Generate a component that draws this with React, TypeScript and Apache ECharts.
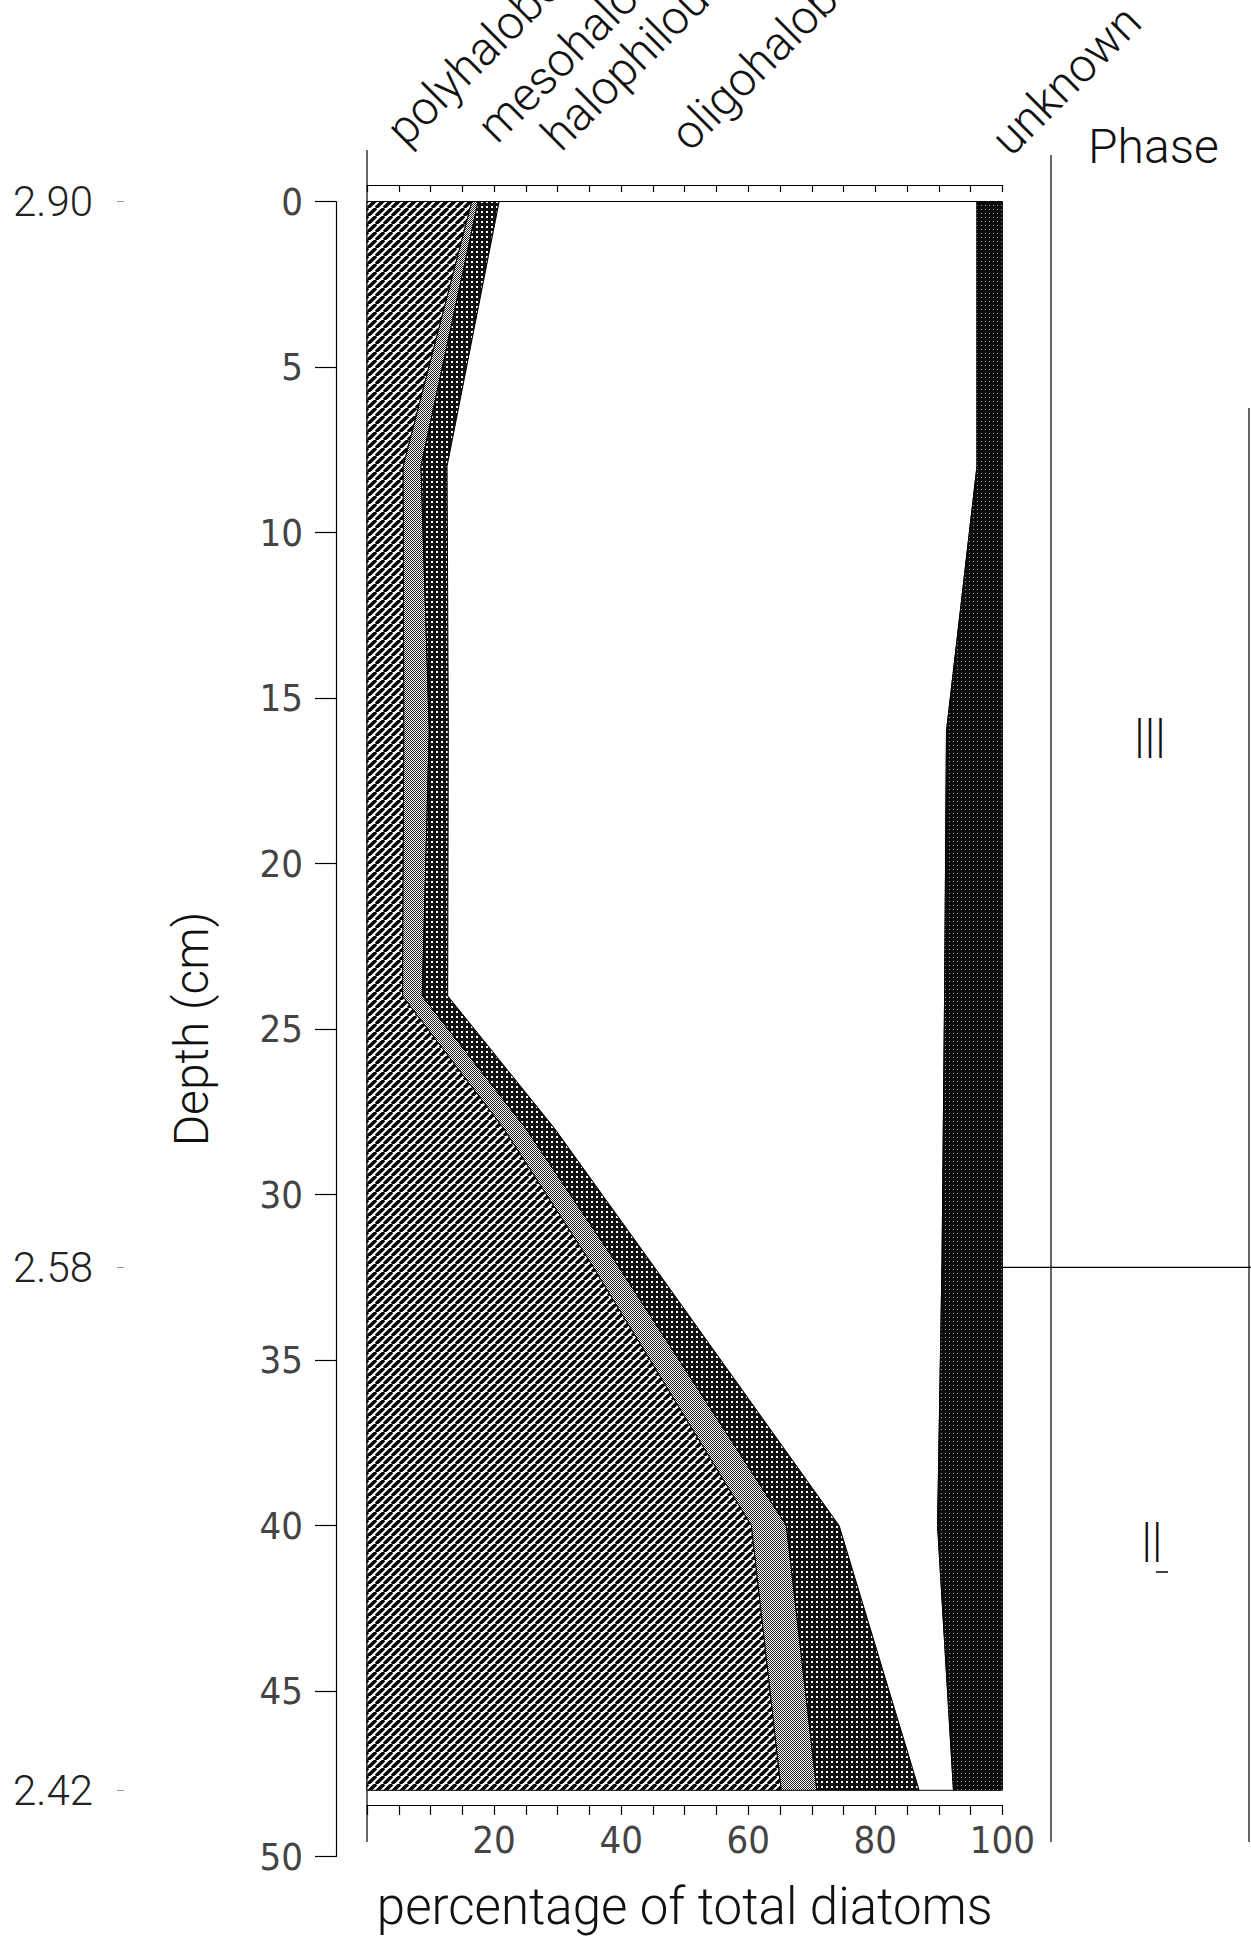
import React, { useEffect, useRef } from 'react';
import * as echarts from 'echarts';

// ---------------- data ----------------
const depths = [0, 8, 16, 24, 28, 32, 40, 48]; // cm
const polyhalobous = [16.5, 5.7, 5.8, 5.6, 21.5, 35.0, 60.5, 65.2];
const mesohalobous = [1.0, 2.8, 4.0, 3.1, 3.5, 4.0, 5.5, 5.6];
const halophilous = [3.3, 4.1, 3.0, 4.0, 4.5, 5.5, 8.3, 16.1];
const oligohalobous = [75.2, 83.4, 78.4, 78.2, 61.2, 46.0, 15.5, 5.4];
const unknown = [4.0, 4.0, 8.8, 9.1, 9.3, 9.5, 10.2, 7.7];

const groupNames = ['polyhalobous', 'mesohalobous', 'halophilous', 'oligohalobous', 'unknown'];
const pctLabels = [20, 40, 60, 80, 100];
const elevationDepths = [0, 32.2, 48];
const elevationLabels = ['2.90', '2.58', '2.42'];
const phaseBoundaryDepth = 32.2;
const phaseNames = ['III', 'II'];

// ---------------- layout ----------------
const W = 1251;
const H = 1939;
const GRID_LEFT = 367;
const GRID_WIDTH = 635.4;
const GRID_TOP = 201.5;
const PX_CM = 33.1;
const GRID_HEIGHT = 50 * PX_CM;

const LIGHT = 'Roboto, "Open Sans", "DejaVu Sans", sans-serif';
const NARROW = '"Liberation Sans Narrow", "DejaVu Sans Condensed", sans-serif';

function makePattern(size: number, draw: (ctx: CanvasRenderingContext2D) => void) {
  const c = document.createElement('canvas');
  c.width = size;
  c.height = size;
  const ctx = c.getContext('2d') as CanvasRenderingContext2D;
  draw(ctx);
  return { image: c, repeat: 'repeat', imageWidth: size, imageHeight: size };
}

export default function App() {
  const ref = useRef<HTMLDivElement>(null);

  useEffect(() => {
    const chart = echarts.init(ref.current as HTMLDivElement, null, { renderer: 'svg' });

    const hatch = makePattern(8, (ctx) => {
      ctx.fillStyle = '#fff';
      ctx.fillRect(0, 0, 8, 8);
      ctx.strokeStyle = '#000';
      ctx.lineWidth = 3.4;
      for (const o of [-8, 0, 8]) {
        ctx.beginPath();
        ctx.moveTo(o, 8);
        ctx.lineTo(o + 8, 0);
        ctx.stroke();
      }
    });
    const fineGray = makePattern(4, (ctx) => {
      ctx.fillStyle = '#fff';
      ctx.fillRect(0, 0, 4, 4);
      ctx.fillStyle = '#222';
      for (let y = 0; y < 4; y++) for (let x = 0; x < 4; x++) if ((x + y) % 2 === 0) ctx.fillRect(x, y, 1, 1);
    });
    const coarseDots = makePattern(5, (ctx) => {
      ctx.fillStyle = '#111';
      ctx.fillRect(0, 0, 5, 5);
      ctx.fillStyle = '#fff';
      ctx.fillRect(1, 1, 2, 2);
    });
    const darkDots = makePattern(4, (ctx) => {
      ctx.fillStyle = '#0a0a0a';
      ctx.fillRect(0, 0, 4, 4);
      ctx.fillStyle = '#aaa';
      ctx.fillRect(1, 1, 1, 1);
    });
    const fills: any[] = [hatch, fineGray, coarseDots, '#ffffff', darkDots];

    const comps = [polyhalobous, mesohalobous, halophilous, oligohalobous, unknown];
    // cumulative boundaries
    const cum: number[][] = [depths.map(() => 0)];
    comps.forEach((c, k) => cum.push(c.map((v, i) => cum[k][i] + v)));
    const bands = comps.map((_, k) => depths.map((d, i) => [cum[k][i], cum[k + 1][i], d]));

    const series = bands.map((rows, k) => ({
      type: 'custom',
      name: groupNames[k],
      xAxisIndex: 0,
      yAxisIndex: 0,
      data: rows,
      encode: { x: [0, 1], y: 2 },
      silent: true,
      renderItem: (params: any, api: any) => {
        if (params.dataIndex !== 0) return null;
        const pts: number[][] = [];
        rows.forEach((r) => pts.push(api.coord([r[0], r[2]])));
        for (let i = rows.length - 1; i >= 0; i--) pts.push(api.coord([rows[i][1], rows[i][2]]));
        return {
          type: 'polygon',
          shape: { points: pts },
          style: { fill: fills[k], stroke: '#000', lineWidth: 1 },
        };
      },
    }));

    const axisLineStyle = { color: '#000', width: 1.2 };
    const yB = GRID_TOP + phaseBoundaryDepth * PX_CM;
    const headerStyle = (text: string) => ({
      text,
      fontFamily: LIGHT,
      fontWeight: 300,
      fontSize: 47,
      fill: '#111',
      textAlign: 'left',
      textVerticalAlign: 'bottom',
    });
    const headerPos = [
      [411, 153],
      [502, 150],
      [566, 158],
      [695, 158],
      [1016, 163],
    ];
    const line = (x1: number, y1: number, x2: number, y2: number, w = 1.2, c = '#000') => ({
      type: 'line',
      silent: true,
      shape: { x1, y1, x2, y2 },
      style: { stroke: c, lineWidth: w },
    });

    const option: any = {
      animation: false,
      backgroundColor: '#fff',
      grid: {
        left: GRID_LEFT,
        top: GRID_TOP,
        width: GRID_WIDTH,
        height: GRID_HEIGHT,
        containLabel: false,
        outerBoundsMode: 'none',
      },
      xAxis: [
        {
          type: 'value',
          gridIndex: 0,
          position: 'bottom',
          min: 0,
          max: 100,
          interval: 5,
          offset: -51.5,
          axisLine: { show: true, onZero: false, lineStyle: axisLineStyle },
          axisTick: { show: true, inside: false, length: 10, lineStyle: axisLineStyle },
          axisLabel: {
            show: true,
            margin: 16,
            fontFamily: NARROW,
            fontSize: 38,
            color: '#444',
            formatter: (v: number) => (pctLabels.includes(v) ? String(v) : ''),
          },
          splitLine: { show: false },
          name: 'percentage of total diatoms',
          nameLocation: 'middle',
          nameGap: 76,
          nameTextStyle: { fontFamily: LIGHT, fontWeight: 300, fontSize: 51, color: '#111' },
        },
        {
          type: 'value',
          gridIndex: 0,
          position: 'top',
          min: 0,
          max: 100,
          interval: 5,
          offset: 16.5,
          axisLine: { show: true, onZero: false, lineStyle: axisLineStyle },
          axisTick: { show: true, inside: true, length: 7, lineStyle: axisLineStyle },
          axisLabel: { show: false },
          splitLine: { show: false },
        },
      ],
      yAxis: [
        {
          type: 'value',
          gridIndex: 0,
          position: 'left',
          inverse: true,
          min: 0,
          max: 50,
          interval: 5,
          offset: 31,
          axisLine: { show: true, onZero: false, lineStyle: axisLineStyle },
          axisTick: { show: true, inside: false, length: 21, lineStyle: axisLineStyle },
          axisLabel: { show: true, margin: 33, fontFamily: NARROW, fontSize: 38, color: '#444' },
          splitLine: { show: false },
          name: 'Depth (cm)',
          nameLocation: 'middle',
          nameRotate: 90,
          nameGap: 121,
          nameTextStyle: { fontFamily: LIGHT, fontWeight: 300, fontSize: 48, color: '#111' },
        },
        {
          type: 'value',
          gridIndex: 0,
          position: 'left',
          inverse: true,
          min: 0,
          max: 50,
          offset: 243,
          axisLine: { show: false, onZero: false },
          axisTick: { show: true, inside: false, length: 7, customValues: elevationDepths, lineStyle: { color: '#999', width: 1 } },
          axisLabel: {
            show: true,
            margin: 31,
            customValues: elevationDepths,
            fontFamily: LIGHT,
            fontWeight: 300,
            fontSize: 42,
            color: '#222',
            formatter: (v: number) => {
              const i = elevationDepths.indexOf(v);
              return i >= 0 ? elevationLabels[i] : '';
            },
          },
          splitLine: { show: false },
        },
      ],
      series,
      graphic: [
        line(GRID_LEFT, 150, GRID_LEFT, 1842),
        line(1051, 155, 1051, 1842),
        line(GRID_LEFT + GRID_WIDTH, yB, W, yB),
        line(1249, 408, 1249, 1842),
        ...groupNames.map((n, k) => ({
          type: 'text',
          silent: true,
          x: headerPos[k][0],
          y: headerPos[k][1],
          rotation: Math.PI / 4,
          style: headerStyle(n),
        })),
        {
          type: 'text',
          silent: true,
          x: 1088,
          y: 146,
          style: { text: 'Phase', fontFamily: LIGHT, fontWeight: 300, fontSize: 48, fill: '#111', textAlign: 'left', textVerticalAlign: 'middle' },
        },
        {
          type: 'text',
          silent: true,
          x: 1150,
          y: 739,
          scaleX: 0.7,
          style: { text: phaseNames[0], fontFamily: LIGHT, fontWeight: 300, fontSize: 56, fill: '#111', textAlign: 'center', textVerticalAlign: 'middle' },
        },
        {
          type: 'text',
          silent: true,
          x: 1152,
          y: 1543,
          scaleX: 0.7,
          style: { text: phaseNames[1], fontFamily: LIGHT, fontWeight: 300, fontSize: 56, fill: '#111', textAlign: 'center', textVerticalAlign: 'middle' },
        },
        line(1156, 1572, 1168, 1572, 1.5),
      ],
    };

    chart.setOption(option);
    return () => chart.dispose();
  }, []);

  return (
    <div style={{ position: 'absolute', left: 0, top: 0, width: W, height: H, overflow: 'hidden', background: '#fff' }}>
      <div ref={ref} style={{ width: W, height: H }} />
    </div>
  );
}
